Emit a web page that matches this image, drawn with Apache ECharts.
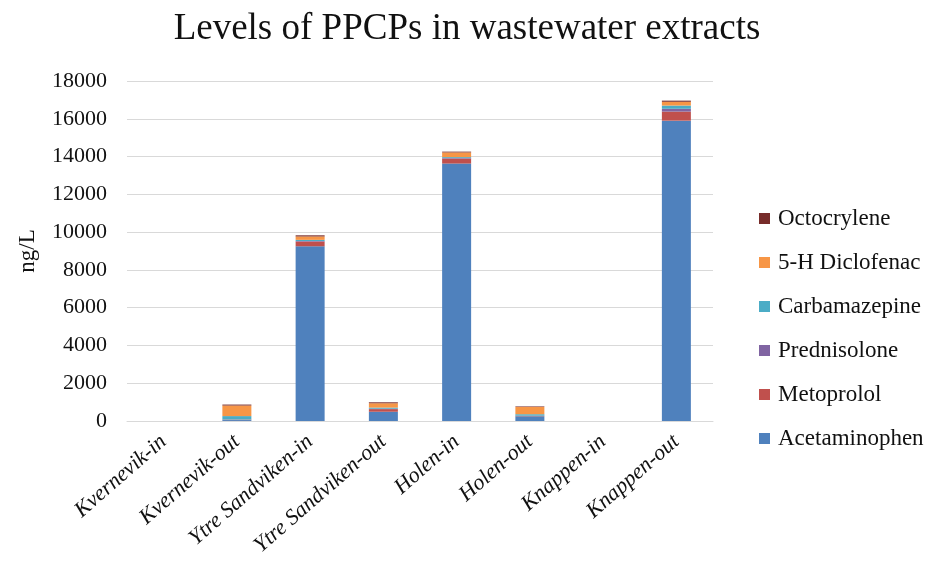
<!DOCTYPE html>
<html><head><meta charset="utf-8">
<script src="https://cdn.jsdelivr.net/npm/echarts@6/dist/echarts.min.js"></script>
<style>html,body{margin:0;padding:0;background:#fff}#c{width:934px;height:579px}</style>
</head><body><div id="c"></div>
<script>
const categories = ['Kvernevik-in','Kvernevik-out','Ytre Sandviken-in','Ytre Sandviken-out','Holen-in','Holen-out','Knappen-in','Knappen-out'];
const acetaminophen = [0, 50, 9250, 490, 13630, 250, 0, 15900];
const metoprolol    = [0, 20, 250, 140, 260, 20, 0, 480];
const prednisolone  = [0, 10, 30, 20, 30, 10, 0, 150];
const carbamazepine = [0, 180, 60, 60, 50, 80, 0, 170];
const diclofenac    = [0, 560, 180, 230, 250, 380, 0, 200];
const octocrylene   = [0, 50, 60, 50, 40, 30, 0, 60];
const yTicks = [0,2000,4000,6000,8000,10000,12000,14000,16000,18000];

const seriesDefs = [
  ['Acetaminophen', acetaminophen, '#4F81BD'],
  ['Metoprolol', metoprolol, '#C0504D'],
  ['Prednisolone', prednisolone, '#8064A2'],
  ['Carbamazepine', carbamazepine, '#4BACC6'],
  ['5-H Diclofenac', diclofenac, '#F79646'],
  ['Octocrylene', octocrylene, '#772C2A']
];
const font = '"Liberation Serif","Times New Roman",serif';
const chart = echarts.init(document.getElementById('c'));
chart.setOption({
  animation: false,
  title: { text: 'Levels of PPCPs in wastewater extracts', left: 'center', top: 6,
    textStyle: { fontFamily: font, fontSize: 37, fontWeight: 'normal', color: '#111' } },
  grid: { left: 127, right: 221, top: 81, bottom: 158 },
  legend: {
    orient: 'vertical', left: 754, top: 202, itemWidth: 11, itemHeight: 11, itemGap: 21,
    icon: 'rect',
    data: seriesDefs.map(s => s[0]).reverse(),
    textStyle: { fontFamily: font, fontSize: 23, color: '#111', padding: [0,0,0,3] }
  },
  xAxis: {
    type: 'category', data: categories,
    axisLine: { lineStyle: { color: '#d9d9d9', width: 1 } },
    axisTick: { show: false },
    axisLabel: { rotate: 41, interval: 0, fontFamily: font, fontStyle: 'italic', fontSize: 22, color: '#111', margin: 18 }
  },
  yAxis: {
    type: 'value', min: yTicks[0], max: yTicks[yTicks.length-1], interval: 2000,
    name: 'ng/L', nameLocation: 'middle', nameGap: 88, nameRotate: 90,
    nameTextStyle: { fontFamily: font, fontSize: 23, color: '#111' },
    axisLine: { show: false }, axisTick: { show: false },
    axisLabel: { fontFamily: font, fontSize: 22, color: '#111', margin: 20, formatter: v => String(v) },
    splitLine: { lineStyle: { color: '#d9d9d9', width: 1 } }
  },
  series: seriesDefs.map(([name, data, color]) => ({
    name, type: 'bar', stack: 'total', data, barWidth: 29,
    itemStyle: { color }
  }))
});
</script></body></html>
